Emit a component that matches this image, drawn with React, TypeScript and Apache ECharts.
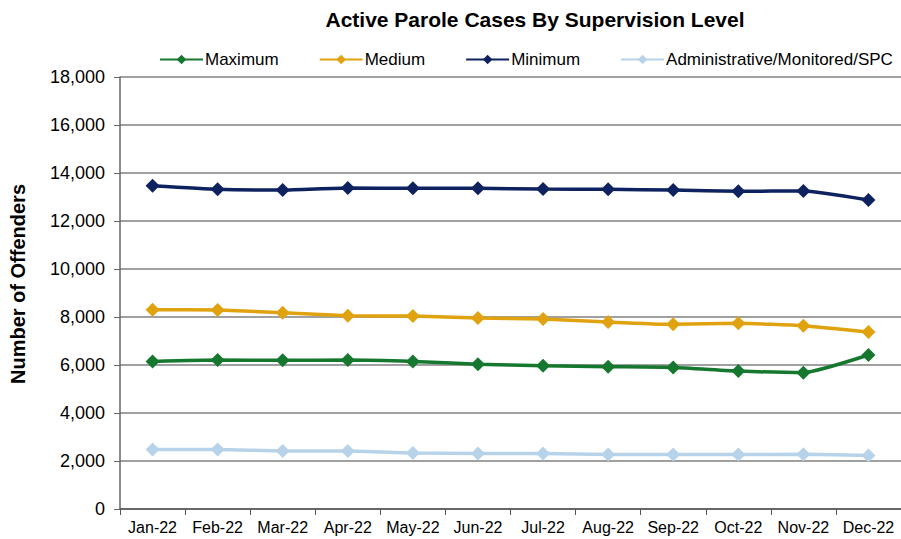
import React, { useEffect, useRef } from "react";
import * as echarts from "echarts";

const months = ["Jan-22", "Feb-22", "Mar-22", "Apr-22", "May-22", "Jun-22", "Jul-22", "Aug-22", "Sep-22", "Oct-22", "Nov-22", "Dec-22"];
const maximum = [6150, 6210, 6195, 6210, 6150, 6030, 5970, 5930, 5900, 5750, 5680, 6415];
const medium = [8305, 8290, 8180, 8055, 8040, 7960, 7915, 7790, 7695, 7735, 7640, 7375];
const minimum = [13470, 13320, 13290, 13375, 13360, 13360, 13330, 13320, 13290, 13240, 13250, 12875];
const admin = [2476, 2476, 2420, 2420, 2336, 2308, 2308, 2266, 2266, 2266, 2280, 2224];

const FONT = "Liberation Sans, Arial, sans-serif";

export default function App() {
  const ref = useRef<HTMLDivElement>(null);
  useEffect(() => {
    const chart = echarts.init(ref.current!, null, { renderer: "svg" });
    const mk = (name: string, data: number[], color: string) => ({
      name,
      type: "line",
      data,
      symbol: "diamond",
      symbolSize: 14,
      lineStyle: { width: 3.5, color },
      itemStyle: { color },
      smooth: 0.15,
    });
    chart.setOption({
      animation: false,
      textStyle: { fontFamily: FONT },
      title: {
        text: "Active Parole Cases By Supervision Level",
        left: 530,
        top: 4,
        textAlign: "center",
        textStyle: { fontSize: 21, fontWeight: "bold", color: "#000", fontFamily: FONT },
      },
      legend: {
        top: 46,
        left: 154,
        itemWidth: 43,
        itemHeight: 12,
        itemGap: 40,
        textStyle: { fontSize: 17, color: "#000", fontFamily: FONT, padding: [0, 0, 0, -3] },
        data: ["Maximum", "Medium", "Minimum", "Administrative/Monitored/SPC"],
      },
      grid: { left: 120, right: 0, top: 77, bottom: 30 },
      xAxis: {
        type: "category",
        data: months,
        boundaryGap: true,
        axisLine: { lineStyle: { color: "#555", width: 1.5 } },
        axisTick: { show: true, length: 6, lineStyle: { color: "#555" } },
        axisLabel: { fontSize: 16, color: "#000", margin: 10, fontFamily: FONT, interval: 0, hideOverlap: false },
      },
      yAxis: {
        type: "value",
        min: 0,
        max: 18000,
        interval: 2000,
        name: "Number of Offenders",
        nameLocation: "middle",
        nameGap: 92,
        nameTextStyle: { fontSize: 20, fontWeight: "bold", color: "#000", fontFamily: FONT, padding: [0, 0, 0, 18] },
        axisLine: { show: true, lineStyle: { color: "#666", width: 1.5 } },
        axisTick: { show: true, length: 6, lineStyle: { color: "#666" } },
        axisLabel: {
          fontSize: 18,
          color: "#000",
          margin: 15,
          fontFamily: FONT,
          formatter: (v: number) => v.toLocaleString("en-US"),
        },
        splitLine: { lineStyle: { color: "#808080", width: 1.5 } },
      },
      series: [
        mk("Maximum", maximum, "#16782E"),
        mk("Medium", medium, "#E0A20E"),
        mk("Minimum", minimum, "#0E2260"),
        mk("Administrative/Monitored/SPC", admin, "#B7D3EA"),
      ],
    });
    return () => chart.dispose();
  }, []);
  return <div ref={ref} style={{ position: "absolute", left: 0, top: 0, width: 901, height: 539 }} />;
}
